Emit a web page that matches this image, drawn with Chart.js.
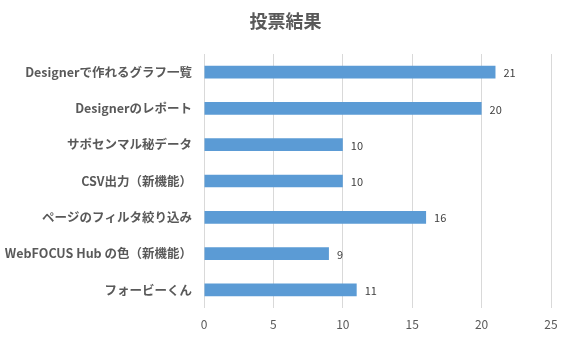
<!DOCTYPE html>
<html>
<head>
<meta charset="utf-8">
<script src="https://cdn.jsdelivr.net/npm/chart.js@4/dist/chart.umd.min.js"></script>
<style>
  html, body { margin: 0; padding: 0; background: #ffffff; }
  #wrap { width: 567px; height: 338px; }
</style>
</head>
<body>
<div id="wrap"><canvas id="c" width="567" height="338"></canvas></div>
<script>
const chartTitle = '投票結果';
const categories = [
  'Designerで作れるグラフ一覧',
  'Designerのレポート',
  'サポセンマル秘データ',
  'CSV出力（新機能）',
  'ページのフィルタ絞り込み',
  'WebFOCUS Hub の色（新機能）',
  'フォービーくん'
];
const votes = [21, 20, 10, 10, 16, 9, 11];
const xTicks = [0, 5, 10, 15, 20, 25];

const FONT = '"Segoe UI", "Noto Sans CJK JP", "Noto Sans", sans-serif';

// Title centred across the whole canvas
const centredTitle = {
  id: 'centredTitle',
  afterDraw(chart) {
    const ctx = chart.ctx;
    ctx.save();
    ctx.font = 'bold 18px ' + FONT;
    ctx.fillStyle = '#595959';
    ctx.textAlign = 'center';
    ctx.textBaseline = 'middle';
    ctx.fillText(chartTitle, chart.width / 2 + 2, 21);
    ctx.restore();
  }
};

// Writes each bar's value just past its end
const valueLabels = {
  id: 'valueLabels',
  afterDatasetsDraw(chart) {
    const ctx = chart.ctx;
    const meta = chart.getDatasetMeta(0);
    ctx.save();
    ctx.font = '11px ' + FONT;
    ctx.fillStyle = '#404040';
    ctx.textAlign = 'left';
    ctx.textBaseline = 'middle';
    meta.data.forEach((bar, i) => {
      ctx.fillText(String(chart.data.datasets[0].data[i]), bar.x + 8, bar.y + 1);
    });
    ctx.restore();
  }
};

new Chart(document.getElementById('c'), {
  type: 'bar',
  data: {
    labels: categories,
    datasets: [{
      data: votes,
      backgroundColor: '#5b9bd5',
      borderWidth: 0,
      barPercentage: 0.7,
      categoryPercentage: 0.5
    }]
  },
  options: {
    indexAxis: 'y',
    responsive: false,
    animation: false,
    devicePixelRatio: 1,
    layout: { padding: { left: 0, right: 16, top: 54, bottom: 0 } },
    plugins: {
      legend: { display: false },
      tooltip: { enabled: false },
      title: { display: false }
    },
    scales: {
      x: {
        min: 0,
        max: 25,
        afterBuildTicks(scale) { scale.ticks = xTicks.map(v => ({ value: v })); },
        afterFit(scale) { scale.height = 30; },
        grid: { color: '#d9d9d9', drawTicks: false },
        border: { display: false },
        ticks: {
          color: '#595959',
          font: { family: FONT, size: 12 },
          padding: 9
        }
      },
      y: {
        grid: { display: false, drawTicks: false },
        border: { display: false },
        afterFit(scale) { scale.width = 204; },
        ticks: {
          color: '#595959',
          font: { family: FONT, size: 12.5, weight: 'bold' },
          padding: 12
        }
      }
    }
  },
  plugins: [valueLabels, centredTitle]
});
</script>
</body>
</html>
